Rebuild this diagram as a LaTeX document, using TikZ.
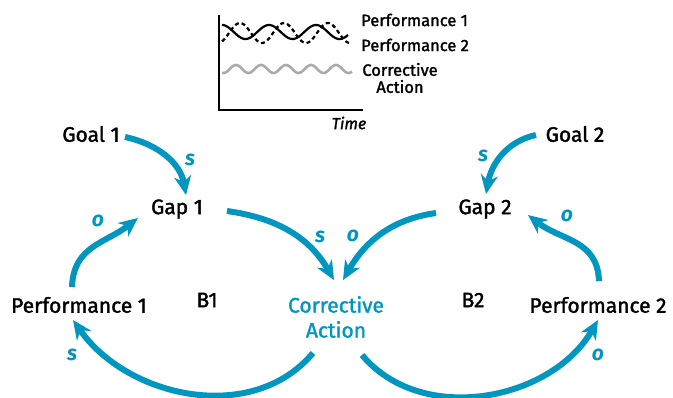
\documentclass[tikz,border=0pt]{standalone}
\usepackage{fontspec}
\setmainfont{Fira Sans}
\newfontfamily\lblfont{Fira Sans}[FakeBold=1.6]
\usetikzlibrary{arrows.meta}
\definecolor{loopblue}{RGB}{0,150,192}
\tikzset{
  lbl/.style={font=\lblfont\fontsize{21}{25}\selectfont, text=black, inner sep=2pt},
  chartlbl/.style={font=\lblfont\fontsize{16.5}{17}\selectfont, text=black, inner sep=0pt},
  pol/.style={font=\fontsize{21}{21}\selectfont\bfseries\itshape, text=loopblue, inner sep=0pt},
  flow/.style={draw=loopblue, line width=6pt, -{Stealth[length=19pt,width=17pt,inset=6pt]}},
  axis/.style={line width=2.4pt},
}
\begin{document}
\begin{tikzpicture}[x=1pt,y=1pt]
\useasboundingbox (0,0) rectangle (673,-397);
% --- chart ---
\coordinate (ytop) at (219,-15);
\coordinate (orig) at (219,-110);
\coordinate (xend) at (363,-110);
\draw[axis] (ytop) -- (orig) -- (xend);
\draw[line width=2.2pt] plot[domain=222:348,samples=120,smooth] (\x,{-(32-7*cos(7.6596*(\x-222)))});
\draw[line width=2.2pt,dash pattern=on 4pt off 3pt] plot[domain=222:350,samples=120,smooth] (\x,{-(33-10*cos(8.1818*(\x-240)))});
\draw[line width=2.6pt,color=black!33] plot[domain=222:352,samples=120,smooth] (\x,{-(69-4*cos(14.4*(\x-236)))});
\node[chartlbl,anchor=west] (cp1) at (361,-20) {Performance 1};
\node[chartlbl,anchor=west] (cp2) at (361,-45) {Performance 2};
\node[chartlbl,align=center] (cca) at (400,-78) {Corrective\\Action};
\node[chartlbl,font=\lblfont\fontsize{16}{17}\selectfont\itshape] (time) at (349,-123) {Time};
% --- loop nodes ---
\node[lbl] (goal1) at (91,-134) {Goal 1};
\node[lbl] (gap1) at (177,-209) {Gap 1};
\node[lbl] (perf1) at (79,-305) {Performance 1};
\node[lbl] (b1) at (207,-300) {B1};
\node[lbl,text=loopblue,align=center] (ca) at (336,-317) {Corrective\\Action};
\node[lbl] (b2) at (473,-300) {B2};
\node[lbl] (gap2) at (485,-209) {Gap 2};
\node[lbl] (goal2) at (575,-134) {Goal 2};
\node[lbl] (perf2) at (598,-305) {Performance 2};
% --- connector end points ---
\coordinate (g1s) at (125,-137);
\coordinate (g1t) at (186,-195);
\coordinate (p1s) at (72,-287);
\coordinate (p1t) at (138,-218);
\coordinate (gap1s) at (227,-211);
\coordinate (cat1) at (334,-280);
\coordinate (g2s) at (536,-135);
\coordinate (g2t) at (486,-194);
\coordinate (gap2s) at (436,-213);
\coordinate (cat2) at (343,-280);
\coordinate (p2s) at (599,-281);
\coordinate (p2t) at (528,-215);
\coordinate (cas1) at (313,-353);
\coordinate (p1in) at (73,-320);
\coordinate (cas2) at (362,-355);
\coordinate (p2in) at (598,-320);
% --- connectors ---
\draw[flow] (g1s) to[out=-12,in=100] (g1t);
\draw[flow] (p1s) to[out=88,in=218,looseness=1.1] (p1t);
\draw[flow] (gap1s) to[out=-8,in=120] (cat1);
\draw[flow] (g2s) to[out=192,in=80] (g2t);
\draw[flow] (gap2s) to[out=188,in=60] (cat2);
\draw[flow] (p2s) to[out=92,in=-38,looseness=1.1] (p2t);
\draw[flow] (cas1) to[out=-130,in=-55] (p1in);
\draw[flow] (cas2) to[out=-50,in=-120] (p2in);
% --- polarity labels ---
\node[pol] (s1) at (190,-160) {s};
\node[pol] (o1) at (98,-221) {o};
\node[pol] (s2) at (320,-237) {s};
\node[pol] (s3) at (483,-156) {s};
\node[pol] (o2) at (353,-236) {o};
\node[pol] (o3) at (567,-216) {o};
\node[pol] (s4) at (72,-355) {s};
\node[pol] (o4) at (598,-355) {o};
\end{tikzpicture}
\end{document}
